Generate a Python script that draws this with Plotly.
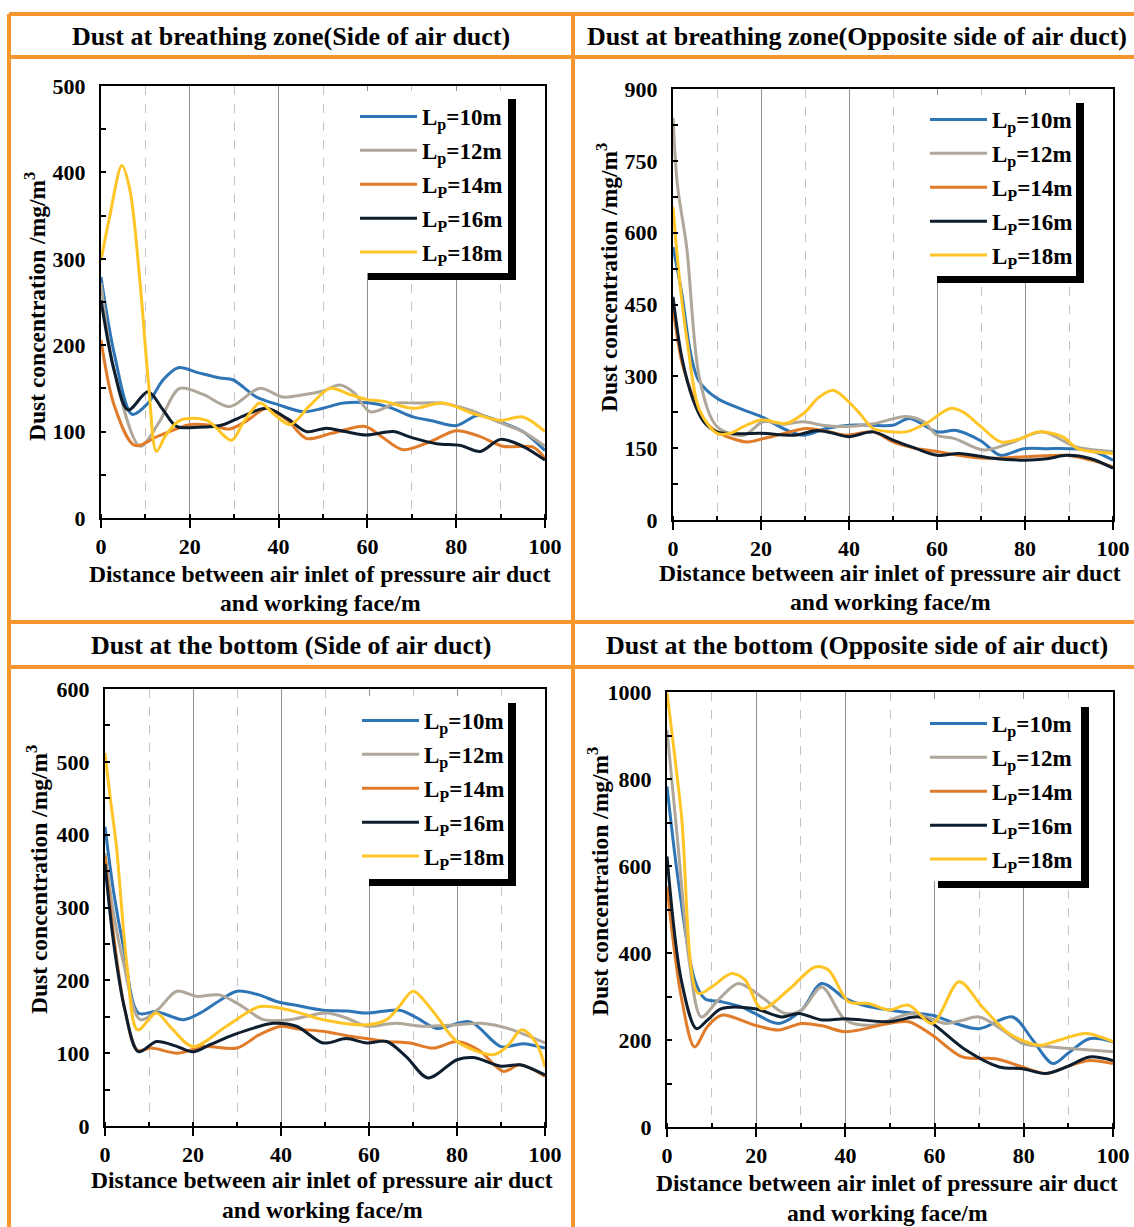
import plotly.graph_objects as go

# ---------------- data: dust concentration (mg/m^3) along the roadway ----------------
SERIES_NAMES = ["L<sub>p</sub>=10m", "L<sub>p</sub>=12m", "L<sub>P</sub>=14m",
                "L<sub>P</sub>=16m", "L<sub>P</sub>=18m"]
SERIES_COLORS = ["#2E75B6", "#AFA79A", "#E07B2A", "#0E1E2E", "#FFC526"]

PANEL_TITLES = ["Dust at breathing zone(Side of air duct)",
                "Dust at breathing zone(Opposite side of air duct)",
                "Dust at the bottom (Side of air duct)",
                "Dust at the bottom (Opposite side of air duct)"]

X_TITLE_1 = "Distance between air inlet of pressure air duct"
X_TITLE_2 = "and working face/m"
Y_TITLE = "Dust concentration /mg/m<sup>3</sup>"

# breathing zone, side of air duct
P1_X10 = [0, 3, 7, 10.6, 14, 17.4, 22, 26.8, 29.7, 35, 40, 45.6, 50, 54.6, 60.6, 65, 70.3, 75, 80, 85, 90.6, 95, 100]
P1_Y10 = [279, 190, 120, 133, 160, 174, 168, 162, 160, 140, 131, 123, 127, 133, 133, 128, 117, 112, 107, 119, 110, 100, 78]
P1_X12 = [0, 3, 8.8, 13, 17.7, 23, 29, 35.7, 41, 46, 50, 53.8, 57, 60.6, 66.6, 71, 76.5, 83, 90, 95, 100]
P1_Y12 = [272, 170, 83, 110, 150, 143, 129, 150, 140, 143, 147, 154, 145, 123, 133, 133, 133, 125, 110, 100, 83]
P1_X14 = [0, 3, 7.6, 13, 20, 25, 29, 33, 37.3, 42, 46.3, 52, 59.5, 63, 68, 74, 80, 85, 90.5, 97.3, 100]
P1_Y14 = [206, 130, 84, 95, 108, 107, 103, 113, 127, 113, 92, 98, 106, 95, 79, 88, 101, 95, 83, 82, 69]
P1_X16 = [0, 3, 6.1, 10.6, 14, 17, 22, 27.5, 32, 37.3, 42, 46.3, 50.8, 55, 59.8, 65.8, 70, 75.6, 81, 85.4, 90, 95, 100]
P1_Y16 = [252, 170, 125, 146, 125, 106, 105, 108, 118, 127, 115, 100, 104, 100, 96, 100, 93, 86, 84, 77, 91, 83, 67]
P1_X18 = [0, 2, 4.7, 6.5, 8.8, 10.7, 12.5, 14.5, 17.8, 23.8, 29.4, 32, 35.8, 39, 42.6, 47, 51.6, 56, 60, 63.8, 70.3, 77, 83.8, 90, 95, 100]
P1_Y18 = [298, 350, 408, 380, 272, 156, 77, 95, 113, 113, 90, 110, 133, 120, 108, 130, 150, 143, 137, 135, 127, 133, 121, 113, 117, 100]

# breathing zone, opposite side of air duct
P2_X10 = [0, 2, 4, 5.8, 10, 16, 20, 25.8, 29.6, 34.8, 40, 45, 50, 53.8, 60, 64.4, 70, 74.4, 79.7, 85, 90, 95, 100]
P2_Y10 = [570, 473, 348, 292, 254, 230, 216, 188, 177, 191, 198, 198, 198, 212, 184, 187, 165, 135, 149, 149, 149, 145, 125]
P2_X12 = [0, 1, 3.1, 6.1, 10, 16, 20.5, 25, 29.6, 34, 38, 45.5, 53, 57, 60, 64, 70.6, 76.5, 84, 91.5, 100]
P2_Y12 = [840, 700, 570, 292, 195, 177, 205, 200, 205, 198, 195, 201, 216, 205, 177, 170, 146, 160, 184, 153, 143]
P2_X14 = [0, 2, 4.6, 7, 10, 16.8, 20.5, 25, 30.3, 35, 39.4, 45.5, 50, 55, 60, 65, 70.6, 80, 89.5, 95, 100]
P2_Y14 = [445, 330, 257, 210, 184, 163, 170, 180, 191, 185, 177, 184, 163, 150, 143, 135, 129, 132, 135, 125, 111]
P2_X16 = [0, 2, 4.6, 7, 10, 15, 20, 27.6, 32.7, 36, 40, 45.5, 50, 55, 60, 65, 72.7, 80, 85, 89.5, 95, 100]
P2_Y16 = [466, 340, 250, 205, 184, 180, 181, 177, 187, 182, 174, 184, 167, 150, 135, 139, 129, 125, 128, 135, 128, 108]
P2_X18 = [0, 1.5, 3.4, 6, 10, 13, 16, 20, 25.8, 30, 33, 36.4, 39, 42.4, 45.5, 50, 53, 57.6, 63, 66, 70, 74.5, 79, 83, 88.5, 92, 100]
P2_Y18 = [654, 500, 362, 230, 181, 181, 195, 209, 202, 225, 255, 271, 255, 223, 191, 184, 184, 202, 233, 225, 195, 163, 170, 184, 174, 149, 139]

# bottom, side of air duct
P3_X10 = [0, 2, 4.2, 7.6, 11.7, 17.8, 21.6, 26, 30, 35, 39, 44, 49.6, 55, 59.5, 67, 71, 75.4, 83, 90, 95, 100]
P3_Y10 = [411, 320, 246, 155, 157, 146, 155, 172, 185, 180, 171, 165, 159, 158, 155, 159, 148, 134, 143, 109, 113, 107]
P3_X12 = [0, 2, 4.2, 8, 12, 16.3, 20.8, 26, 31, 36, 42, 50.3, 55, 59.5, 66, 72, 80, 85.6, 92, 100]
P3_Y12 = [375, 290, 224, 146, 160, 185, 178, 180, 165, 146, 146, 155, 148, 137, 141, 137, 139, 141, 133, 114]
P3_X14 = [0, 2, 4.5, 7.4, 10.5, 16.5, 22.5, 30, 35, 40, 44, 49.6, 55, 59.5, 64, 69.3, 74.6, 80, 85, 90.5, 94.3, 100]
P3_Y14 = [370, 260, 160, 104, 107, 100, 109, 107, 125, 137, 133, 130, 124, 120, 116, 114, 107, 116, 104, 75, 84, 68]
P3_X16 = [0, 2, 4.5, 7.6, 11.7, 16, 20, 24, 28.3, 33, 38.2, 43.5, 49.6, 54.8, 59.5, 64, 68.5, 73.4, 80, 83.8, 90, 94.3, 100]
P3_Y16 = [360, 250, 160, 102, 116, 110, 102, 112, 123, 133, 141, 137, 114, 120, 114, 116, 95, 66, 91, 94, 82, 84, 70]
P3_X18 = [0, 1.2, 2.6, 5, 7.4, 11.7, 15, 20, 27.6, 35.2, 42, 49.6, 59.5, 64, 67, 70, 74.6, 80, 88.3, 91.5, 94.7, 98, 100]
P3_Y18 = [512, 450, 384, 220, 132, 155, 135, 109, 137, 164, 159, 146, 139, 146, 165, 185, 157, 116, 98, 110, 132, 114, 81]

# bottom, opposite side of air duct
P4_X10 = [0, 2.5, 6.2, 8.5, 12.2, 16.7, 19.7, 25, 30.2, 34.7, 40, 44, 49.7, 55, 59.5, 64.7, 70, 77.5, 82, 86.5, 90, 94.7, 100]
P4_Y10 = [783, 568, 338, 295, 288, 276, 261, 238, 269, 330, 295, 280, 269, 262, 257, 238, 226, 253, 200, 146, 170, 203, 196]
P4_X12 = [0, 2.5, 5, 7.7, 11.5, 16, 21.2, 26.5, 30.2, 34.7, 40, 46, 55, 62.5, 66, 70, 75, 79.7, 85, 91, 100]
P4_Y12 = [913, 645, 380, 253, 292, 330, 299, 261, 269, 322, 246, 234, 261, 238, 245, 253, 225, 192, 185, 180, 173]
P4_X14 = [0, 3.2, 6.2, 9, 12.2, 19.7, 25, 30.2, 35, 40, 49.7, 54.2, 59.5, 66.2, 73.7, 79.7, 85, 90, 94.7, 100]
P4_Y14 = [553, 299, 184, 230, 257, 234, 223, 238, 232, 219, 238, 242, 211, 161, 157, 138, 123, 140, 153, 146]
P4_X16 = [0, 3.2, 6.6, 9, 12.2, 19.7, 25.7, 29.5, 34.7, 40, 49.7, 56.5, 59.5, 67, 74.5, 79.7, 85, 90, 94.7, 100]
P4_Y16 = [622, 338, 226, 245, 272, 272, 253, 261, 246, 249, 242, 253, 238, 177, 138, 134, 123, 140, 161, 153]
P4_X18 = [0, 3.2, 7, 10, 14.5, 17.5, 21.2, 27.2, 33.2, 36.2, 40.7, 45.2, 49.7, 54.2, 59.5, 65.5, 70.7, 76.7, 83.5, 88, 94, 100]
P4_Y18 = [998, 721, 307, 322, 353, 338, 272, 315, 368, 361, 288, 284, 269, 280, 238, 334, 276, 215, 188, 200, 215, 196]

PANEL_DATA = [
    [(P1_X10, P1_Y10), (P1_X12, P1_Y12), (P1_X14, P1_Y14), (P1_X16, P1_Y16), (P1_X18, P1_Y18)],
    [(P2_X10, P2_Y10), (P2_X12, P2_Y12), (P2_X14, P2_Y14), (P2_X16, P2_Y16), (P2_X18, P2_Y18)],
    [(P3_X10, P3_Y10), (P3_X12, P3_Y12), (P3_X14, P3_Y14), (P3_X16, P3_Y16), (P3_X18, P3_Y18)],
    [(P4_X10, P4_Y10), (P4_X12, P4_Y12), (P4_X14, P4_Y14), (P4_X16, P4_Y16), (P4_X18, P4_Y18)],
]

Y_MAX = [500, 900, 600, 1000]
Y_STEP = [100, 150, 100, 200]
X_TICKS = [0, 20, 40, 60, 80, 100]

# ---------------- page geometry (pixels) ----------------
W, H = 1134, 1227
FONT = "Liberation Serif"
ORANGE = "#F7962F"


def fx(p):
    return p / W


def fy(p):
    return 1 - p / H


# plot areas: (left, right, top, bottom)
AREAS = [(101, 545, 86, 518), (673, 1113, 89, 520), (105, 545, 689, 1126), (667, 1113, 692, 1127)]
# legend white box (l, r, t, b), black shadow (l, r, t, b), legend anchor (x, y)
LEGEND_BOXES = [
    ((352, 508, 91, 273), (368, 516, 99, 280), (355, 95)),
    ((922, 1076, 95, 276), (937, 1084, 103, 283), (925, 98)),
    ((355, 508, 696, 879), (369, 516, 703, 886), (357, 699)),
    ((922, 1081, 699, 881), (938, 1089, 707, 888), (925, 702)),
]
TITLE_CENTERS = [(291, 37), (857, 37), (291, 645), (857, 645)]
XTITLE_POS = [(320, 574, 603), (890, 573, 602), (322, 1180, 1210), (887, 1183, 1213)]
YTITLE_POS = [(35, 307), (607, 278), (37, 880), (598, 882)]

TICK_SIZE = 22
TITLE_SIZE = 26
XTITLE_SIZE = 23.6
YTITLE_SIZE = 23.5
LEGEND_SIZE = 23

fig = go.Figure()
layout = dict(
    width=W, height=H, margin=dict(l=0, r=0, t=0, b=0, autoexpand=False),
    paper_bgcolor="white", plot_bgcolor="white",
    font=dict(family=FONT, size=TICK_SIZE, color="black", weight="bold"),
    showlegend=True,
)
shapes = []
annotations = []

for k in range(4):
    n = "" if k == 0 else str(k + 1)
    left, right, top, bottom = AREAS[k]
    xa = dict(
        domain=[fx(left), fx(right)], anchor="y" + n, range=[0, 100], automargin=False,
        tickvals=X_TICKS, ticks="outside", ticklen=8, tickwidth=2, tickcolor="black",
        showline=True, linecolor="black", linewidth=2, mirror=True,
        showgrid=True, gridcolor="#8F8F8F", gridwidth=1,
        minor=dict(dtick=10, tick0=0, ticks="inside", ticklen=4, tickwidth=2, tickcolor="black",
                   showgrid=True, gridcolor="#C4C4C4", griddash="dash", gridwidth=1),
        zeroline=False, tickfont=dict(size=TICK_SIZE),
    )
    ya = dict(
        domain=[fy(bottom), fy(top)], anchor="x" + n, range=[0, Y_MAX[k]], automargin=False,
        tick0=0, dtick=Y_STEP[k], ticks="inside", ticklen=5, tickwidth=2, tickcolor="black",
        ticklabelstandoff=9,
        showline=True, linecolor="black", linewidth=2, mirror=True,
        showgrid=False, zeroline=False, tickfont=dict(size=TICK_SIZE),
        minor=dict(dtick=Y_STEP[k] / 2, ticks="inside", ticklen=5, tickwidth=2, tickcolor="black"),
    )
    layout["xaxis" + n] = xa
    layout["yaxis" + n] = ya

    legend_name = "legend" + n
    for i, (xs, ys) in enumerate(PANEL_DATA[k]):
        fig.add_trace(go.Scatter(
            x=xs, y=ys, mode="lines", name=SERIES_NAMES[i],
            line=dict(color=SERIES_COLORS[i], width=3, shape="spline", smoothing=0.9),
            xaxis="x" + n, yaxis="y" + n, legend=legend_name,
            legendgroup=f"g{k}{i}", cliponaxis=True,
        ))

    (wl, wr, wt, wb), (bl, br, bt, bb), (lx, ly) = LEGEND_BOXES[k]
    shapes.append(dict(type="rect", xref="paper", yref="paper", x0=fx(bl), x1=fx(br),
                       y0=fy(bb), y1=fy(bt), fillcolor="black", line=dict(width=0), layer="above"))
    shapes.append(dict(type="rect", xref="paper", yref="paper", x0=fx(wl), x1=fx(wr),
                       y0=fy(wb), y1=fy(wt), fillcolor="white", line=dict(width=0), layer="above"))
    layout[legend_name] = dict(
        x=fx(lx), y=fy(ly), xanchor="left", yanchor="top",
        bgcolor="rgba(0,0,0,0)", borderwidth=0, itemwidth=57,
        tracegroupgap=1, traceorder="grouped",
        font=dict(family=FONT, size=LEGEND_SIZE, color="black", weight="bold"),
    )

    cx, cy = TITLE_CENTERS[k]
    annotations.append(dict(text=PANEL_TITLES[k], x=fx(cx), y=fy(cy), xref="paper", yref="paper",
                            showarrow=False, xanchor="center", yanchor="middle",
                            font=dict(size=TITLE_SIZE, family=FONT, weight="bold")))
    tx, ty1, ty2 = XTITLE_POS[k]
    for txt, ty in ((X_TITLE_1, ty1), (X_TITLE_2, ty2)):
        annotations.append(dict(text=txt, x=fx(tx), y=fy(ty), xref="paper", yref="paper",
                                showarrow=False, xanchor="center", yanchor="middle",
                                font=dict(size=XTITLE_SIZE, family=FONT, weight="bold")))
    yx, yy = YTITLE_POS[k]
    annotations.append(dict(text=Y_TITLE, x=fx(yx), y=fy(yy), xref="paper", yref="paper",
                            showarrow=False, xanchor="center", yanchor="middle", textangle=-90,
                            font=dict(size=YTITLE_SIZE, family=FONT, weight="bold")))

# orange frame dividing the four panels and their title rows
frame_h = [14, 57, 622, 667]
frame_v = [9, 573]
for yv in frame_h:
    shapes.append(dict(type="line", xref="paper", yref="paper", x0=fx(9), x1=1.02,
                       y0=fy(yv), y1=fy(yv), line=dict(color=ORANGE, width=4)))
for xv in frame_v:
    shapes.append(dict(type="line", xref="paper", yref="paper", x0=fx(xv), x1=fx(xv),
                       y0=fy(14), y1=-0.02, line=dict(color=ORANGE, width=4)))

layout["shapes"] = shapes
layout["annotations"] = annotations
fig.update_layout(**layout)

# page without body margin so the figure fills the window exactly
fig.write_html(
    "out.html",
    config=dict(displayModeBar=False),
    post_script="document.body.style.margin='0';document.body.style.overflow='hidden';",
)
